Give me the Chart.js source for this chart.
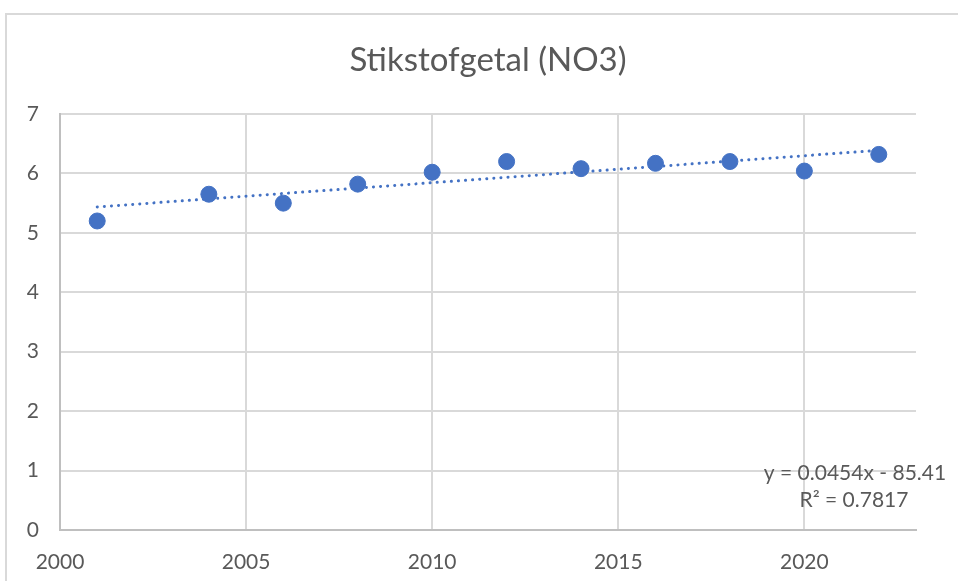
<!DOCTYPE html>
<html>
<head>
<meta charset="utf-8">
<script src="https://cdn.jsdelivr.net/npm/chart.js@4"></script>
<style>
  html, body { margin:0; padding:0; background:#fff; }
  #wrap { width:958px; height:581px; position:relative; }
</style>
</head>
<body>
<div id="wrap"><canvas id="c" width="958" height="581"></canvas></div>
<script>
// ── DATA ──
const years  = [2001, 2004, 2006, 2008, 2010, 2012, 2014, 2016, 2018, 2020, 2022];
const no3    = [5.2, 5.65, 5.5, 5.82, 6.02, 6.2, 6.08, 6.17, 6.2, 6.04, 6.32];
const xTicks = [2000, 2005, 2010, 2015, 2020];
const yTicks = [0, 1, 2, 3, 4, 5, 6, 7];
const trendSlope = 0.0454;
const trendIntercept = -85.41;
const trendLabel = ['y = 0.0454x - 85.41', 'R² = 0.7817'];
const chartTitle = 'Stikstofgetal (NO3)';

const FONT  = 'Lato, "Open Sans", sans-serif';
const TEXT  = '#595959';
const GRID  = '#d9d9d9';
const AXIS  = '#bfbfbf';
const BLUE  = '#4472c4';

const points = years.map((y, i) => ({ x: y, y: no3[i] }));
const trendEnds = [years[0], years[years.length - 1]].map(x => ({ x, y: trendSlope * x + trendIntercept }));

// ── DECOR (frame, title, trend equation) ──
const decor = {
  id: 'decor',
  beforeDraw(chart) {
    const ctx = chart.ctx;
    ctx.save();
    ctx.strokeStyle = GRID;
    ctx.lineWidth = 2;
    ctx.beginPath();
    ctx.moveTo(6, 581);
    ctx.lineTo(6, 14);
    ctx.lineTo(958, 14);
    ctx.stroke();
    ctx.fillStyle = TEXT;
    ctx.font = '33px ' + FONT;
    ctx.textAlign = 'center';
    ctx.textBaseline = 'middle';
    ctx.fillText(chartTitle, 488, 60);
    ctx.restore();
  },
  afterDraw(chart) {
    const ctx = chart.ctx;
    ctx.save();
    ctx.fillStyle = TEXT;
    ctx.font = '21px ' + FONT;
    ctx.textBaseline = 'middle';
    ctx.textAlign = 'center';
    ctx.fillText(trendLabel[0], 855, 473);
    ctx.fillText(trendLabel[1], 854, 500);
    ctx.restore();
  }
};

new Chart(document.getElementById('c'), {
  type: 'scatter',
  data: {
    datasets: [
      {
        label: 'NO3',
        data: points,
        backgroundColor: BLUE,
        borderColor: BLUE,
        pointRadius: 8,
        pointHoverRadius: 8,
        order: 1
      },
      {
        type: 'line',
        label: 'Trend',
        data: trendEnds,
        borderColor: BLUE,
        borderWidth: 3,
        borderDash: [0.1, 7],
        borderCapStyle: 'round',
        pointRadius: 0,
        fill: false,
        order: 2
      }
    ]
  },
  options: {
    responsive: false,
    animation: false,
    layout: { padding: { left: 0, right: 42, top: 114, bottom: 0 } },
    plugins: {
      legend: { display: false },
      tooltip: { enabled: false }
    },
    scales: {
      x: {
        type: 'linear',
        min: 2000,
        max: 2023,
        afterBuildTicks: s => { s.ticks = xTicks.map(v => ({ value: v })); },
        afterFit: s => { s.height = 51; },
        grid: { color: GRID, lineWidth: 2, drawTicks: false },
        border: { color: AXIS, width: 2 },
        ticks: { color: TEXT, font: { family: FONT, size: 21 }, padding: 20, maxRotation: 0, callback: v => String(v) }
      },
      y: {
        min: 0,
        max: 7,
        afterBuildTicks: s => { s.ticks = yTicks.map(v => ({ value: v })); },
        afterFit: s => { s.width = 60; },
        grid: { color: GRID, lineWidth: 2, drawTicks: false },
        border: { color: AXIS, width: 2 },
        ticks: { color: TEXT, font: { family: FONT, size: 21 }, padding: 21, callback: v => String(v) }
      }
    }
  },
  plugins: [decor]
});
</script>
</body>
</html>
